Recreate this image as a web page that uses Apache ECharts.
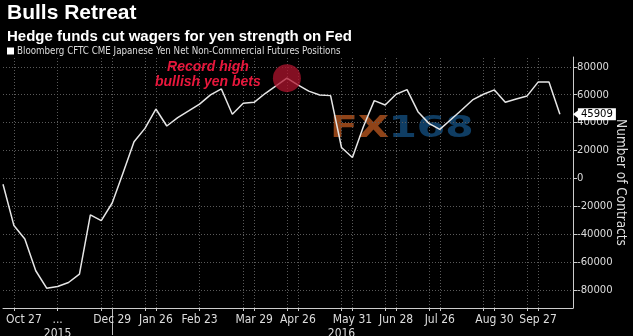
<!DOCTYPE html>
<html>
<head>
<meta charset="utf-8">
<script src="https://cdn.jsdelivr.net/npm/echarts@6/dist/echarts.min.js"></script>
<style>
html,body{margin:0;padding:0;background:#000;}
#c{width:633px;height:336px;}
</style>
</head>
<body>
<div id="c"></div>
<script>
const dates = ['Oct 20','Oct 27','Nov 3','Nov 10','Nov 17','Nov 24','Dec 1','Dec 8','Dec 15','Dec 22','Dec 29',
  'Jan 5','Jan 12','Jan 19','Jan 26','Feb 2','Feb 9','Feb 16','Feb 23','Mar 1','Mar 8','Mar 15','Mar 22','Mar 29',
  'Apr 5','Apr 12','Apr 19','Apr 26','May 3','May 10','May 17','May 24','May 31','Jun 7','Jun 14','Jun 21','Jun 28',
  'Jul 5','Jul 12','Jul 19','Jul 26','Aug 2','Aug 9','Aug 16','Aug 23','Aug 30','Sep 6','Sep 13','Sep 20','Sep 27',
  'Oct 4','Oct 11'];
const positions = [-4300,-33900,-43500,-66300,-78800,-77600,-74700,-68700,-26200,-30300,-17700,
  4000,26200,35800,49700,37500,43500,48300,53200,59800,64100,45900,53800,54500,60800,66300,71800,
  67000,62500,59800,59300,22100,14900,37000,55700,52600,60300,63600,47800,39400,35100,42000,49000,
  56200,60300,63400,54500,56900,59100,69000,69000,45909];
const xLabelIdx = [1,5,10,14,18,23,27,32,36,40,45,49];
const xLabelText = ['Oct 27','...','Dec 29','Jan 26','Feb 23','Mar 29','Apr 26','May 31','Jun 28','Jul 26','Aug 30','Sep 27'];
const xGridIdx = [1,5,9,10,13,14,18,22,23,26,27,31,32,35,36,39,40,44,45,48,49];
const yearIdx = [5,31];
const yearText = ['2015','2016'];
const yearBreakIdx = [10];
const yTicks = [-80000,-60000,-40000,-20000,0,20000,40000,60000,80000];
const peakIdx = 26;
const lastIdx = positions.length - 1;

const NARROW = '"DejaVu Sans Condensed","Liberation Sans",sans-serif';
const chart = echarts.init(document.getElementById('c'));
const seriesData = positions.map((v,i)=>[i,v]);
const gridLineData = xGridIdx.map(i=>({xAxis:i})).concat(yTicks.map(v=>({yAxis:v})));
chart.setOption({
  backgroundColor:'#000',
  animation:false,
  title:[
    {text:'Bulls Retreat',left:2,top:-2,textStyle:{color:'#fff',fontSize:21,fontWeight:'bold',fontFamily:'Liberation Sans'}},
    {text:'Hedge funds cut wagers for yen strength on Fed',left:2,top:24,textStyle:{color:'#fff',fontSize:15,fontWeight:'bold',fontFamily:'Liberation Sans'}}
  ],
  legend:{left:2,top:41,icon:'rect',itemWidth:7,itemHeight:7,itemGap:4,
    textStyle:{color:'#ddd',fontSize:9.7,fontFamily:NARROW,padding:[0,0,0,-2]},
    data:['Bloomberg CFTC CME Japanese Yen Net Non-Commercial Futures Positions']},
  grid:{left:3,right:60,top:57,bottom:28,outerBoundsMode:'none',containLabel:false},
  graphic:[
    {type:'group',left:330,top:114,z:0,scaleX:1.36,children:[
      {type:'text',x:0,y:0,style:{text:'FX',fill:'#8f4318',font:'bold 30px "DejaVu Sans"'}},
      {type:'text',x:43,y:0,style:{text:'168',fill:'#0f3d63',font:'bold 30px "DejaVu Sans"'}}
    ]}
  ],
  xAxis:[{
    type:'value',min:0,max:52.2,
    axisLine:{show:true,onZero:false,lineStyle:{color:'#ccc',width:1}},
    axisTick:{show:true,customValues:xGridIdx,length:3,lineStyle:{color:'#ccc'}},
    axisLabel:{customValues:xLabelIdx,color:'#ddd',fontSize:12,fontFamily:NARROW,margin:6,
      formatter:v=>{const t=xLabelText[xLabelIdx.indexOf(v)]; return v===xLabelIdx[0]?'{a|'+t+'}':t;},
      rich:{a:{color:'#ddd',fontSize:12,fontFamily:NARROW,padding:[0,0,0,20]}}},
    splitLine:{show:false}
  },{
    type:'value',min:0,max:52.2,position:'bottom',
    axisLine:{show:false,onZero:false},
    axisTick:{show:true,customValues:yearBreakIdx,length:27,inside:false,lineStyle:{color:'#bbb'}},
    axisLabel:{customValues:yearIdx,color:'#ddd',fontSize:12,fontFamily:NARROW,margin:20,
      formatter:v=>yearText[yearIdx.indexOf(v)]},
    splitLine:{show:false}
  }],
  yAxis:{
    type:'value',position:'right',min:-93000,max:87000,
    name:'Number of Contracts',nameLocation:'middle',nameRotate:-90,nameGap:40,nameMoveOverlap:false,
    nameTextStyle:{color:'#ddd',fontSize:13.5,fontFamily:NARROW},
    axisLine:{show:true,onZero:false,lineStyle:{color:'#ccc'}},
    axisTick:{show:true,customValues:yTicks,length:4,lineStyle:{color:'#ccc'}},
    axisLabel:{customValues:yTicks,color:'#ddd',fontSize:11.2,fontFamily:NARROW,margin:4,
      formatter:v=>String(v)},
    splitLine:{show:false}
  },
  series:[{
    name:'Bloomberg CFTC CME Japanese Yen Net Non-Commercial Futures Positions',
    type:'line',data:seriesData,showSymbol:false,symbol:'none',z:3,
    itemStyle:{color:'#fff'},
    lineStyle:{color:'#e6e6e6',width:1.5},
    endLabel:{show:true,formatter:p=>String(p.value[1]),backgroundColor:'#fff',color:'#000',
      fontSize:11.2,fontFamily:NARROW,padding:[1,3,0,3],distance:5,offset:[13,0]},
    markLine:{
      silent:true,symbol:['none','none'],z:1,animation:false,
      label:{show:false},
      lineStyle:{color:'#5a5a5a',type:[1,2],width:1},
      emphasis:{disabled:true},
      data:gridLineData
    },
    markPoint:{
      symbol:'circle',symbolSize:28,silent:true,
      itemStyle:{color:'rgba(175,20,45,0.75)'},
      label:{show:true,position:'left',distance:0,offset:[-65,-4],align:'center',
        formatter:'Record high\nbullish yen bets',color:'#e8173c',fontSize:14,fontStyle:'italic',
        fontWeight:'bold',fontFamily:'Liberation Sans',lineHeight:15},
      data:[
        {coord:[peakIdx,positions[peakIdx]]},
        {coord:[lastIdx,positions[lastIdx]],symbol:'triangle',symbolRotate:90,symbolSize:[9,6],
          symbolOffset:[16,0],itemStyle:{color:'#fff'},label:{show:false}}
      ]
    }
  }]
});
</script>
</body>
</html>
